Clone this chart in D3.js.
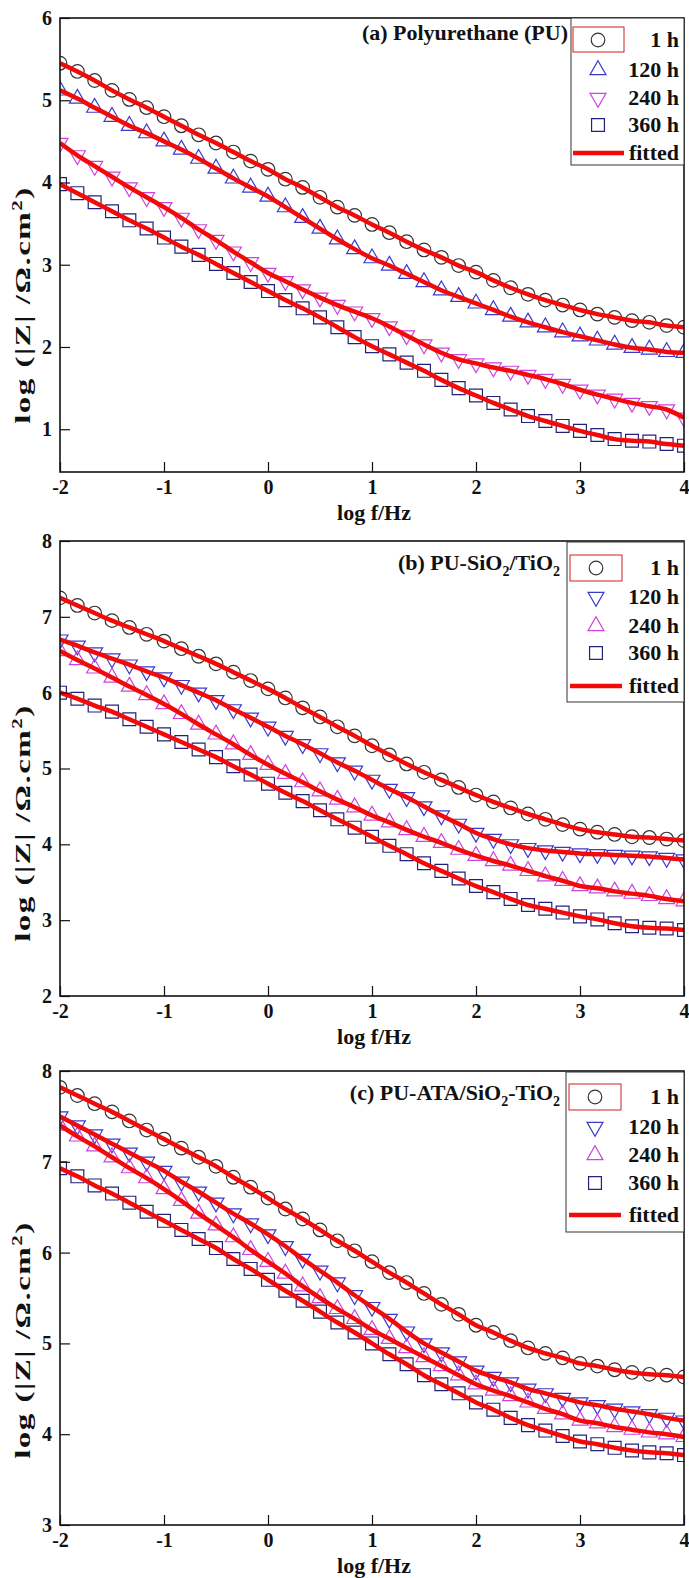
<!DOCTYPE html>
<html>
<head>
<meta charset="utf-8">
<script src="https://cdn.jsdelivr.net/npm/d3@7"></script>
<style>
  body { margin: 0; background: #fff; }
  svg text { font-family: "Liberation Serif", "Times New Roman", serif; font-weight: bold; fill: #111; }
</style>
</head>
<body>
<div id="chart"></div>
<script>
// log f grid (6 points per decade)
var logF = [-2, -1.833, -1.667, -1.5, -1.333, -1.167, -1, -0.833, -0.667, -0.5, -0.333, -0.167,
            0, 0.167, 0.333, 0.5, 0.667, 0.833, 1, 1.167, 1.333, 1.5, 1.667, 1.833,
            2, 2.167, 2.333, 2.5, 2.667, 2.833, 3, 3.167, 3.333, 3.5, 3.667, 3.833, 4];

var xTicks = [-2, -1, 0, 1, 2, 3, 4];
var hourLabels = ["1 h", "120 h", "240 h", "360 h"];

// (a) Polyurethane (PU)
var puH1   = [5.45, 5.35, 5.24, 5.12, 5.01, 4.91, 4.80, 4.69, 4.58, 4.48, 4.37, 4.26, 4.16, 4.04, 3.94, 3.82, 3.70, 3.60, 3.49, 3.39, 3.28, 3.18, 3.09, 2.99, 2.91, 2.81, 2.72, 2.64, 2.57, 2.51, 2.45, 2.40, 2.36, 2.32, 2.30, 2.26, 2.24];
var puH120 = [5.12, 5.02, 4.91, 4.80, 4.69, 4.60, 4.50, 4.40, 4.29, 4.17, 4.05, 3.94, 3.83, 3.70, 3.57, 3.44, 3.31, 3.19, 3.08, 2.99, 2.89, 2.79, 2.69, 2.61, 2.53, 2.45, 2.37, 2.30, 2.24, 2.18, 2.13, 2.08, 2.03, 1.99, 1.97, 1.94, 1.93];
var puH240 = [4.48, 4.33, 4.20, 4.07, 3.94, 3.82, 3.70, 3.57, 3.43, 3.30, 3.16, 3.03, 2.90, 2.80, 2.70, 2.60, 2.51, 2.43, 2.35, 2.25, 2.14, 2.03, 1.93, 1.85, 1.80, 1.75, 1.71, 1.66, 1.61, 1.55, 1.48, 1.42, 1.37, 1.32, 1.28, 1.24, 1.14];
var puH360 = [3.98, 3.87, 3.76, 3.65, 3.54, 3.44, 3.33, 3.22, 3.12, 3.01, 2.90, 2.79, 2.68, 2.57, 2.47, 2.36, 2.24, 2.12, 2.01, 1.91, 1.81, 1.71, 1.60, 1.50, 1.41, 1.32, 1.24, 1.16, 1.10, 1.04, 0.98, 0.93, 0.88, 0.86, 0.85, 0.82, 0.80];

// (b) PU-SiO2/TiO2
var stH1   = [7.25, 7.15, 7.05, 6.95, 6.86, 6.77, 6.68, 6.58, 6.48, 6.38, 6.27, 6.16, 6.05, 5.93, 5.80, 5.68, 5.55, 5.43, 5.30, 5.18, 5.06, 4.95, 4.85, 4.75, 4.65, 4.56, 4.48, 4.40, 4.33, 4.26, 4.20, 4.16, 4.13, 4.10, 4.09, 4.07, 4.05];
var stH120 = [6.70, 6.62, 6.53, 6.45, 6.37, 6.28, 6.20, 6.10, 6.00, 5.90, 5.78, 5.67, 5.55, 5.43, 5.32, 5.20, 5.08, 4.97, 4.85, 4.73, 4.62, 4.50, 4.38, 4.27, 4.15, 4.07, 4.00, 3.95, 3.92, 3.90, 3.88, 3.87, 3.86, 3.85, 3.84, 3.82, 3.80];
var stH240 = [6.55, 6.43, 6.32, 6.20, 6.08, 5.97, 5.85, 5.72, 5.58, 5.45, 5.32, 5.18, 5.05, 4.93, 4.82, 4.70, 4.59, 4.49, 4.38, 4.29, 4.19, 4.10, 4.02, 3.93, 3.85, 3.78, 3.72, 3.65, 3.58, 3.52, 3.45, 3.42, 3.38, 3.35, 3.32, 3.28, 3.25];
var stH360 = [6.00, 5.92, 5.83, 5.75, 5.65, 5.55, 5.45, 5.35, 5.25, 5.15, 5.03, 4.92, 4.80, 4.68, 4.57, 4.45, 4.33, 4.22, 4.10, 3.98, 3.87, 3.75, 3.65, 3.55, 3.45, 3.37, 3.28, 3.20, 3.15, 3.10, 3.05, 3.01, 2.96, 2.92, 2.90, 2.89, 2.87];

// (c) PU-ATA/SiO2-TiO2
var ataH1   = [7.82, 7.73, 7.64, 7.55, 7.45, 7.35, 7.25, 7.15, 7.05, 6.95, 6.83, 6.72, 6.60, 6.48, 6.37, 6.25, 6.13, 6.02, 5.90, 5.78, 5.67, 5.55, 5.43, 5.32, 5.20, 5.12, 5.03, 4.95, 4.89, 4.84, 4.78, 4.75, 4.71, 4.68, 4.66, 4.65, 4.63];
var ataH120 = [7.50, 7.40, 7.30, 7.20, 7.10, 7.00, 6.90, 6.78, 6.67, 6.55, 6.43, 6.32, 6.20, 6.07, 5.93, 5.80, 5.67, 5.53, 5.40, 5.27, 5.13, 5.00, 4.90, 4.80, 4.70, 4.63, 4.57, 4.50, 4.45, 4.40, 4.35, 4.32, 4.28, 4.25, 4.22, 4.18, 4.15];
var ataH240 = [7.40, 7.28, 7.17, 7.05, 6.93, 6.82, 6.70, 6.57, 6.43, 6.30, 6.17, 6.03, 5.90, 5.77, 5.63, 5.50, 5.38, 5.27, 5.15, 5.05, 4.95, 4.85, 4.75, 4.65, 4.55, 4.48, 4.42, 4.35, 4.28, 4.22, 4.15, 4.12, 4.08, 4.05, 4.02, 4.00, 3.97];
var ataH360 = [6.93, 6.84, 6.74, 6.65, 6.55, 6.45, 6.35, 6.25, 6.15, 6.05, 5.93, 5.82, 5.70, 5.58, 5.47, 5.35, 5.23, 5.12, 5.00, 4.88, 4.77, 4.65, 4.55, 4.45, 4.35, 4.27, 4.18, 4.10, 4.04, 3.98, 3.92, 3.89, 3.85, 3.82, 3.80, 3.79, 3.77];

var W = 689, H = 1578;
var left = 60, right = 684;

var svg = d3.select("#chart").append("svg")
  .attr("width", W)
  .attr("height", H);

var x = d3.scaleLinear().domain([-2, 4]).range([left, right]);

// marker shapes
var markers = {
  circle: { sym: d3.symbolCircle, size: 145 },
  up:     { sym: d3.symbolTriangle, size: 110 },
  down:   { sym: d3.symbolTriangle, size: 110 },
  square: { sym: d3.symbolSquare, size: 165 }
};

function markerPath(m) {
  return d3.symbol().type(markers[m].sym).size(markers[m].size)();
}

var panels = [
  {
    id: "a", top: 18, bottom: 472, domain: [0.48, 6], yTicks: [1, 2, 3, 4, 5, 6],
    series: [puH1, puH120, puH240, puH360],
    shapes: ["circle", "up", "down", "square"],
    colors: ["#333333", "#3a3acc", "#cc44dd", "#22227a"],
    title: [{ t: "(a) Polyurethane (PU)" }], titleX: 568, titleY: 40,
    legend: { x: 571, y: 18, w: 113, h: 147, rows: [40, 70, 98, 125, 153], symX: 598, lineX: [573, 624], hi: [573, 27, 51, 25] },
    yLabelY: 305
  },
  {
    id: "b", top: 541, bottom: 996, domain: [2, 8], yTicks: [2, 3, 4, 5, 6, 7, 8],
    series: [stH1, stH120, stH240, stH360],
    shapes: ["circle", "down", "up", "square"],
    colors: ["#333333", "#3a3acc", "#cc44dd", "#22227a"],
    title: [{ t: "(b) PU-SiO" }, { t: "2", sub: true }, { t: "/TiO" }, { t: "2", sub: true }], titleX: 560, titleY: 570,
    legend: { x: 567, y: 542, w: 117, h: 160, rows: [568, 597, 626, 653, 686], symX: 596, lineX: [570, 622], hi: [570, 555, 52, 26] },
    yLabelY: 823
  },
  {
    id: "c", top: 1071, bottom: 1525, domain: [3, 8], yTicks: [3, 4, 5, 6, 7, 8],
    series: [ataH1, ataH120, ataH240, ataH360],
    shapes: ["circle", "down", "up", "square"],
    colors: ["#333333", "#3a3acc", "#cc44dd", "#22227a"],
    title: [{ t: "(c) PU-ATA/SiO" }, { t: "2", sub: true }, { t: "-TiO" }, { t: "2", sub: true }], titleX: 560, titleY: 1100,
    legend: { x: 566, y: 1072, w: 118, h: 160, rows: [1097, 1127, 1155, 1183, 1215], symX: 595, lineX: [569, 621], hi: [569, 1084, 52, 26] },
    yLabelY: 1340
  }
];

panels.forEach(function(p) {
  var y = d3.scaleLinear().domain(p.domain).range([p.bottom, p.top]);
  var g = svg.append("g").attr("class", "panel-" + p.id);

  // clip the data to the plot box
  svg.append("clipPath").attr("id", "clip-" + p.id)
    .append("rect")
    .attr("x", left).attr("y", p.top)
    .attr("width", right - left).attr("height", p.bottom - p.top);

  var plot = g.append("g").attr("clip-path", "url(#clip-" + p.id + ")");

  // measured points
  p.series.forEach(function(vals, si) {
    var shape = p.shapes[si];
    var rot = shape === "down" ? 180 : 0;
    plot.selectAll(".m" + si)
      .data(vals)
      .enter()
      .append("path")
      .attr("d", markerPath(shape))
      .attr("transform", function(d, i) {
        return "translate(" + x(logF[i]) + "," + y(d) + ") rotate(" + rot + ")";
      })
      .style("fill", "none")
      .style("stroke", p.colors[si])
      .style("stroke-width", 1.2);
  });

  // fitted curves
  var line = d3.line()
    .x(function(d, i) { return x(logF[i]); })
    .y(function(d) { return y(d); })
    .curve(d3.curveMonotoneX);

  p.series.forEach(function(vals) {
    plot.append("path")
      .datum(vals)
      .attr("d", line)
      .style("fill", "none")
      .style("stroke", "#f20a0a")
      .style("stroke-width", 4.5)
      .style("stroke-linejoin", "round");
  });

  // frame
  g.append("rect")
    .attr("x", left).attr("y", p.top)
    .attr("width", right - left).attr("height", p.bottom - p.top)
    .style("fill", "none")
    .style("stroke", "#111")
    .style("stroke-width", 1.6);

  // axes, ticks pointing inward
  var xAxis = d3.axisBottom(x).tickValues(xTicks).tickSize(-10).tickPadding(6).tickFormat(d3.format("d"));
  var gx = g.append("g").attr("transform", "translate(0," + p.bottom + ")").call(xAxis);
  gx.select(".domain").remove();
  gx.selectAll("line").style("stroke", "#111").style("stroke-width", 1.2);
  gx.selectAll("text").style("font-size", "20px").attr("dy", "0.78em")
    .text(function(d) { return d < 0 ? "-" + Math.abs(d) : d; });

  var yAxis = d3.axisLeft(y).tickValues(p.yTicks).tickSize(-10).tickPadding(8).tickFormat(d3.format("d"));
  var gy = g.append("g").attr("transform", "translate(" + left + ",0)").call(yAxis);
  gy.select(".domain").remove();
  gy.selectAll("line").style("stroke", "#111").style("stroke-width", 1.2);
  gy.selectAll("text").style("font-size", "20px");

  // axis titles
  g.append("text")
    .attr("x", (left + right) / 2 + 2)
    .attr("y", p.bottom + 48)
    .attr("text-anchor", "middle")
    .style("font-size", "22px")
    .text("log f/Hz");

  var yl = g.append("text")
    .attr("transform", "translate(30," + p.yLabelY + ") rotate(-90) scale(1.5,1)")
    .attr("text-anchor", "middle")
    .style("font-size", "22px")
    .style("letter-spacing", "1px");
  yl.append("tspan").text("log (|Z| /\u03A9.cm");
  yl.append("tspan").attr("dy", -8).style("font-size", "14px").text("2");
  yl.append("tspan").attr("dy", 8).text(")");

  // panel title
  var tt = g.append("text")
    .attr("x", p.titleX).attr("y", p.titleY)
    .attr("text-anchor", "end")
    .style("font-size", "22px");
  var prevSub = false;
  p.title.forEach(function(part) {
    var ts = tt.append("tspan").text(part.t);
    if (part.sub) { ts.attr("dy", 6).style("font-size", "14px"); prevSub = true; }
    else if (prevSub) { ts.attr("dy", -6); prevSub = false; }
  });

  // legend
  var L = p.legend;
  var lg = g.append("g");
  lg.append("rect")
    .attr("x", L.x).attr("y", L.y).attr("width", L.w).attr("height", L.h)
    .style("fill", "#fff").style("stroke", "#333").style("stroke-width", 1);
  lg.append("rect")
    .attr("x", L.hi[0]).attr("y", L.hi[1]).attr("width", L.hi[2]).attr("height", L.hi[3])
    .style("fill", "none").style("stroke", "#d02020").style("stroke-width", 1);
  hourLabels.forEach(function(lbl, i) {
    var shape = p.shapes[i];
    var rot = shape === "down" ? 180 : 0;
    lg.append("path")
      .attr("d", markerPath(shape))
      .attr("transform", "translate(" + L.symX + "," + L.rows[i] + ") rotate(" + rot + ")")
      .style("fill", "none")
      .style("stroke", p.colors[i])
      .style("stroke-width", 1.2);
    lg.append("text")
      .attr("x", right - 5).attr("y", L.rows[i] + 7)
      .attr("text-anchor", "end")
      .style("font-size", "22px")
      .text(lbl);
  });
  lg.append("line")
    .attr("x1", L.lineX[0]).attr("x2", L.lineX[1])
    .attr("y1", L.rows[4]).attr("y2", L.rows[4])
    .style("stroke", "#f20a0a").style("stroke-width", 4.5);
  lg.append("text")
    .attr("x", right - 5).attr("y", L.rows[4] + 7)
    .attr("text-anchor", "end")
    .style("font-size", "22px")
    .text("fitted");
});
</script>
</body>
</html>
